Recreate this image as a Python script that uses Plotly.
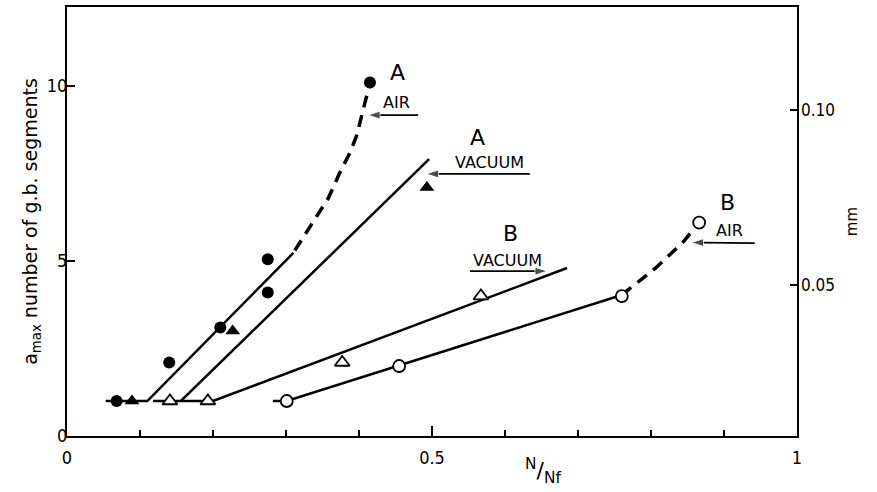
import plotly.graph_objects as go

# ---- measured points (N/Nf, a_max) ----
a_air_x = [0.068, 0.140, 0.210, 0.275, 0.275, 0.415]
a_air_y = [1.0, 2.1, 3.1, 4.1, 5.05, 10.1]
a_vac_x = [0.089, 0.227, 0.493]
a_vac_y = [1.0, 3.0, 7.1]
b_vac_x = [0.141, 0.193, 0.377, 0.567]
b_vac_y = [1.0, 1.0, 2.1, 4.0]
b_air_x = [0.301, 0.455, 0.760, 0.866]
b_air_y = [1.0, 2.0, 4.0, 6.1]

# ---- trend lines ----
a_air_fit_x = [0.053, 0.110, 0.310]
a_air_fit_y = [1.0, 1.0, 5.23]
a_air_ext_x = [0.312, 0.337, 0.358, 0.374, 0.388, 0.397, 0.404, 0.415]
a_air_ext_y = [5.3, 6.11, 6.8, 7.54, 8.11, 8.6, 9.17, 10.09]
a_vac_fit_x = [0.118, 0.156, 0.496]
a_vac_fit_y = [1.0, 1.0, 7.91]
b_vac_fit_x = [0.156, 0.200, 0.685]
b_vac_fit_y = [1.0, 1.0, 4.8]
b_air_fit_x = [0.282, 0.301, 0.760]
b_air_fit_y = [1.0, 1.0, 4.03]
b_air_ext_x = [0.760, 0.808, 0.844, 0.866]
b_air_ext_y = [4.03, 4.83, 5.54, 6.11]

# ---- axis ticks ----
x_tickvals = [0, 0.5, 1]
x_ticktext = ["0", "0.5", "1"]
y_tickvals = [0, 5, 10]
y_ticktext = ["0", "5", "10"]
mm_tickvals = [0.05, 0.10]
mm_ticktext = ["0.05", "0.10"]

TICKFONT = "Liberation Sans Narrow, DejaVu Sans Condensed, DejaVu Sans, sans-serif"
LABELFONT = "DejaVu Sans, sans-serif"

fig = go.Figure()

solid = dict(color="black", width=2.5)
dashed = dict(color="black", width=3.5, dash="12px,8px")

for xs, ys, ln in [
    (a_air_fit_x, a_air_fit_y, solid),
    (a_air_ext_x, a_air_ext_y, dashed),
    (a_vac_fit_x, a_vac_fit_y, solid),
    (b_vac_fit_x, b_vac_fit_y, solid),
    (b_air_fit_x, b_air_fit_y, solid),
    (b_air_ext_x, b_air_ext_y, dashed),
]:
    fig.add_trace(go.Scatter(x=xs, y=ys, mode="lines", line=ln, hoverinfo="skip"))


# label pointer arrows (underline + arrowhead at the tip)
def pointer(tail_x, tail_y, tip_x, tip_y):
    fig.add_trace(go.Scatter(
        x=[tail_x, tip_x], y=[tail_y, tip_y], mode="lines+markers",
        line=dict(color="black", width=1.8),
        marker=dict(symbol="arrow", size=[0, 13], angleref="previous", color="black"),
        hoverinfo="skip"))


pointer(0.481, 9.17, 0.412, 9.17)
pointer(0.634, 7.49, 0.492, 7.49)
pointer(0.552, 4.71, 0.658, 4.71)
pointer(0.942, 5.51, 0.855, 5.53)

fig.add_trace(go.Scatter(x=a_air_x, y=a_air_y, mode="markers", name="A air",
                         marker=dict(symbol="circle", size=12, color="black")))
fig.add_trace(go.Scatter(x=a_vac_x, y=a_vac_y, mode="markers", name="A vacuum",
                         marker=dict(symbol="triangle-up", size=13, color="black")))
fig.add_trace(go.Scatter(x=b_vac_x, y=b_vac_y, mode="markers", name="B vacuum",
                         marker=dict(symbol="triangle-up", size=13, color="white",
                                     line=dict(color="black", width=1.8))))
fig.add_trace(go.Scatter(x=b_air_x, y=b_air_y, mode="markers", name="B air",
                         marker=dict(symbol="circle", size=12, color="white",
                                     line=dict(color="black", width=1.8))))

# carrier for the right-hand mm scale (no visible marks)
fig.add_trace(go.Scatter(x=[None, None], y=mm_tickvals, yaxis="y2", mode="markers",
                         hoverinfo="skip", showlegend=False))

ann = []


def label(x, y, text, size):
    ann.append(dict(x=x, y=y, xref="x", yref="y", text=text, showarrow=False,
                    font=dict(family=LABELFONT, size=size, color="black")))


label(0.453, 10.4, "A", 22)
label(0.451, 9.53, "AIR", 16)
label(0.562, 8.54, "A", 22)
label(0.579, 7.82, "VACUUM", 16)
label(0.607, 5.8, "B", 22)
label(0.603, 5.02, "VACUUM", 16)
label(0.905, 6.66, "B", 22)
label(0.908, 5.88, "AIR", 16)

ann.append(dict(x=0.652, y=-0.124, xref="paper", yref="paper", yanchor="bottom",
                text="<sup>N</sup>/<sub>Nf</sub>", showarrow=False,
                font=dict(family=LABELFONT, size=22, color="black")))

fig.update_layout(
    width=877, height=492,
    margin=dict(l=67, r=80, t=7, b=56, autoexpand=False),
    paper_bgcolor="white", plot_bgcolor="white",
    showlegend=False,
    font=dict(family=TICKFONT, color="black", size=17),
    annotations=ann,
    xaxis=dict(range=[0, 1], tickvals=x_tickvals, ticktext=x_ticktext,
               ticks="inside", ticklen=10, tickwidth=1.5, tickcolor="black",
               minor=dict(dtick=0.1, tick0=0, ticks="inside", ticklen=6,
                          tickwidth=1.5, tickcolor="black", showgrid=False),
               showline=True, linewidth=2, linecolor="black", mirror=True,
               showgrid=False, zeroline=False, ticklabelstandoff=4,
               tickfont=dict(family=TICKFONT, size=18)),
    yaxis=dict(range=[0, 12.26], tickvals=y_tickvals, ticktext=y_ticktext,
               ticks="inside", ticklen=8, tickwidth=1.5, tickcolor="black",
               showline=True, linewidth=2, linecolor="black", mirror=True,
               showgrid=False, zeroline=False, ticklabelstandoff=-6,
               tickfont=dict(family=TICKFONT, size=18),
               title=dict(text="a<sub>max</sub> number of g.b. segments",
                          font=dict(family=LABELFONT, size=19), standoff=4)),
    yaxis2=dict(overlaying="y", side="right", range=[0.00686, 0.12943],
                tickvals=mm_tickvals, ticktext=mm_ticktext,
                ticks="inside", ticklen=7, tickwidth=1.5, tickcolor="black",
                showline=False, showgrid=False, zeroline=False, ticklabelstandoff=3,
                tickfont=dict(family=TICKFONT, size=17),
                title=dict(text="mm", font=dict(family=LABELFONT, size=15),
                           standoff=12)),
)

fig.write_html("out.html", config={"displayModeBar": False},
               post_script="document.body.style.margin='0';")
